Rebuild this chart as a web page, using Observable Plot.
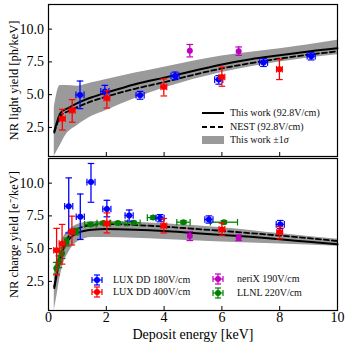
<!DOCTYPE html>
<html><head><meta charset="utf-8">
<script src="https://cdn.jsdelivr.net/npm/d3@7"></script>
<script src="https://cdn.jsdelivr.net/npm/@observablehq/plot@0.6"></script>
<style>
body{margin:0;background:#fff;}
#wrap{position:relative;width:349px;height:347px;font-family:"Liberation Serif",serif;}
#wrap svg{display:block;}
.leg{position:absolute;font-family:"Liberation Serif",serif;font-size:10px;color:#111;white-space:nowrap;line-height:10px;}
.leg svg{position:absolute;}
</style></head><body><div id="wrap"></div>
<script>
// ---------- data ----------
const xTicks = [0, 2, 4, 6, 8, 10];
const yTicks = [2.5, 5.0, 7.5, 10.0];
const colors = {lux180: "#0000ff", lux400: "#ff0000", nerix: "#c000c0", llnl: "#008000", band: "#9a9a9a"};

// Top panel: light yield
const lyModelE      = [0.2, 0.43, 0.7, 1, 1.5, 2, 3, 4, 5, 6, 7, 8, 9, 10];
const lyThisWork    = [2.2, 3.65, 4.0, 4.35, 4.8, 5.15, 5.8, 6.3, 6.8, 7.3, 7.7, 8.0, 8.3, 8.55];
const lyNEST        = [2.1, 3.4, 3.75, 4.05, 4.5, 4.85, 5.45, 5.95, 6.5, 7.0, 7.4, 7.75, 8.05, 8.3];
const lyBandE       = [0.2, 0.4, 0.6, 1, 1.5, 2, 3, 4, 6, 8, 10];
const lyBandLo      = [0.3, 1.1, 1.9, 2.65, 3.35, 3.8, 4.7, 5.5, 6.7, 7.5, 8.05];
const lyBandHi      = [4.0, 5.7, 5.7, 5.65, 5.9, 6.15, 6.65, 7.1, 7.95, 8.5, 9.15];

const lyLux180E  = [1.09, 1.95, 3.17, 4.38, 5.89, 7.44, 9.09];
const lyLux180   = [4.98, 5.25, 4.95, 6.43, 6.15, 7.45, 7.93];
const lyLux180Lo = [3.93, 4.75, 4.65, 6.15, 5.8, 7.15, 7.65];
const lyLux180Hi = [6.04, 5.71, 5.25, 6.72, 6.45, 7.75, 8.2];
const lyLux180Xe = [0.14, 0.14, 0.14, 0.14, 0.14, 0.14, 0.14];

const lyLux400E  = [0.48, 0.82, 2.02, 3.99, 6.0, 7.99];
const lyLux400   = [3.16, 3.8, 4.72, 5.58, 6.35, 6.94];
const lyLux400Lo = [2.3, 2.9, 3.98, 4.9, 5.64, 6.15];
const lyLux400Hi = [3.88, 4.62, 5.3, 6.2, 7.1, 7.68];
const lyLux400Xe = [0.1, 0.1, 0.1, 0.1, 0.1, 0.1];

const lyNerixE  = [4.89, 6.58];
const lyNerix   = [8.35, 8.32];
const lyNerixLo = [7.88, 8.0];
const lyNerixHi = [8.83, 8.64];

// Bottom panel: charge yield
const qyModelE      = [0.2, 0.3, 0.4, 0.5, 0.7, 1, 1.5, 2, 3, 4, 5, 6, 7, 8, 9, 10];
const qyThisWork    = [2.0, 3.2, 4.2, 4.9, 5.7, 6.2, 6.45, 6.5, 6.45, 6.35, 6.2, 6.05, 5.9, 5.72, 5.52, 5.33];
const qyNEST        = [2.1, 3.4, 4.4, 5.1, 5.95, 6.5, 6.8, 6.88, 6.8, 6.68, 6.52, 6.36, 6.18, 6.0, 5.8, 5.58];
const qyBandE       = [0.2, 0.3, 0.4, 0.5, 0.7, 1, 1.5, 2, 3, 4, 6, 8, 10];
const qyBandLo      = [0.3, 1.5, 2.8, 3.7, 4.7, 5.5, 5.85, 5.85, 5.8, 5.7, 5.5, 5.35, 5.18];
const qyBandHi      = [3.2, 4.3, 5.2, 5.8, 6.4, 6.85, 7.05, 7.1, 7.02, 6.9, 6.6, 6.15, 5.71];

const qyLux180E  = [0.70, 1.10, 1.47, 2.02, 2.79, 3.86, 5.55, 8.02];
const qyLux180   = [8.24, 7.43, 10.08, 8.03, 7.53, 7.33, 7.23, 6.85];
const qyLux180Lo = [6.2, 5.7, 8.54, 7.43, 7.1, 7.05, 6.95, 6.55];
const qyLux180Hi = [10.4, 9.17, 11.5, 8.69, 7.95, 7.6, 7.5, 7.15];
const qyLux180Xe = [0.14, 0.14, 0.14, 0.14, 0.14, 0.14, 0.14, 0.14];

const qyLux400E  = [0.28, 0.47, 0.81, 2.02, 3.99, 6.0, 8.0];
const qyLux400   = [4.88, 5.38, 6.29, 6.92, 6.75, 6.47, 6.27];
const qyLux400Lo = [3.0, 3.82, 5.28, 6.2, 6.2, 6.0, 5.75];
const qyLux400Hi = [6.55, 6.85, 7.48, 7.73, 7.3, 6.95, 6.7];
const qyLux400Xe = [0.1, 0.1, 0.1, 0.1, 0.1, 0.1, 0.1];

const qyNerixE  = [4.89, 6.58];
const qyNerix   = [5.96, 5.83];
const qyNerixLo = [5.62, 5.62];
const qyNerixHi = [6.3, 6.05];

const qyLlnlE  = [0.27, 0.36, 0.47, 0.62, 0.95, 1.45, 1.9, 2.4, 2.95, 3.62, 4.67, 6.07];
const qyLlnl   = [3.5, 4.0, 4.65, 5.5, 6.3, 6.85, 6.95, 6.95, 6.97, 7.37, 7.02, 7.02];
const qyLlnlYe = [0.45, 0.45, 0.4, 0.3, 0.25, 0.15, 0.12, 0.12, 0.12, 0.12, 0.12, 0.12];
const qyLlnlXe = [0.03, 0.04, 0.05, 0.07, 0.15, 0.2, 0.22, 0.25, 0.22, 0.2, 0.23, 0.47];

const yDomain = [0.28, 11.88];
const font = "Liberation Serif";

// ---------- helpers ----------
const hcap = {draw(ctx, size) { const r = Math.sqrt(size / Math.PI); ctx.moveTo(-r, 0); ctx.lineTo(r, 0); }};
const vcap = {draw(ctx, size) { const r = Math.sqrt(size / Math.PI); ctx.moveTo(0, -r); ctx.lineTo(0, r); }};

function errMarks(E, Y, lo, hi, xe, color) {
  const d = E.map((e, i) => ({E: e, Y: Y[i], lo: lo[i], hi: hi[i],
    xl: xe ? e - xe[i] : null, xh: xe ? e + xe[i] : null}));
  const m = [
    Plot.ruleX(d, {x: "E", y1: "lo", y2: "hi", stroke: color, strokeWidth: 1.3}),
    Plot.dot(d, {x: "E", y: "lo", symbol: hcap, r: 3.3, fill: "none", stroke: color, strokeWidth: 1.2}),
    Plot.dot(d, {x: "E", y: "hi", symbol: hcap, r: 3.3, fill: "none", stroke: color, strokeWidth: 1.2})
  ];
  if (xe) {
    m.push(Plot.ruleY(d, {y: "Y", x1: "xl", x2: "xh", stroke: color, strokeWidth: 1.3}));
    m.push(Plot.dot(d, {x: "xl", y: "Y", symbol: vcap, r: 3.3, fill: "none", stroke: color, strokeWidth: 1.2}));
    m.push(Plot.dot(d, {x: "xh", y: "Y", symbol: vcap, r: 3.3, fill: "none", stroke: color, strokeWidth: 1.2}));
  }
  m.push(Plot.dot(d, {x: "E", y: "Y", r: 3, fill: color, stroke: "none"}));
  return m;
}
function modelMarks(E, solid, dashed, bE, bLo, bHi) {
  const line = E.map((e, i) => ({E: e, s: solid[i], n: dashed[i]}));
  const band = bE.map((e, i) => ({E: e, lo: bLo[i], hi: bHi[i]}));
  return [
    Plot.areaY(band, {x: "E", y1: "lo", y2: "hi", fill: colors.band, curve: "monotone-x"}),
    Plot.line(line, {x: "E", y: "s", stroke: "black", strokeWidth: 2, curve: "monotone-x"}),
    Plot.line(line, {x: "E", y: "n", stroke: "black", strokeWidth: 1.8, strokeDasharray: "5,3", curve: "monotone-x"})
  ];
}
function axes(showX, ylabel) {
  return [
    Plot.axisX({ticks: showX ? xTicks : xTicks.slice(1, -1), tickSize: -4, tickPadding: 6,
      tickFormat: showX ? d3.format("d") : () => "", fontSize: 14, fontFamily: font}),
    Plot.axisY({ticks: yTicks, tickSize: -4, tickPadding: 8.5, tickFormat: d3.format(".1f"),
      fontSize: 14, fontFamily: font}),
    Plot.text([ylabel], {frameAnchor: "left", dx: -35, rotate: -90, textAnchor: "middle", lineAnchor: "middle",
      fontSize: 12.5, fontFamily: font, fill: "black"}),
    Plot.frame({stroke: "black", strokeWidth: 1.2})
  ];
}
const common = {width: 349, marginLeft: 48, marginRight: 12,
  x: {domain: [0, 10], label: null}, y: {domain: yDomain, label: null},
  style: {fontFamily: font, color: "black", background: "white", overflow: "visible"}};

const topPlot = Plot.plot({...common, height: 157, marginTop: 4, marginBottom: 1,
  marks: [
    ...modelMarks(lyModelE, lyThisWork, lyNEST, lyBandE, lyBandLo, lyBandHi),
    ...errMarks(lyLux180E, lyLux180, lyLux180Lo, lyLux180Hi, lyLux180Xe, colors.lux180),
    ...errMarks(lyLux400E, lyLux400, lyLux400Lo, lyLux400Hi, lyLux400Xe, colors.lux400),
    ...errMarks(lyNerixE, lyNerix, lyNerixLo, lyNerixHi, null, colors.nerix),
    ...axes(false, "NR light yield [ph/keV]")
  ]});
const llnlLo = qyLlnl.map((v, i) => v - qyLlnlYe[i]);
const llnlHi = qyLlnl.map((v, i) => v + qyLlnlYe[i]);
const bottomPlot = Plot.plot({...common, height: 190, marginTop: 1, marginBottom: 37,
  marks: [
    ...modelMarks(qyModelE, qyThisWork, qyNEST, qyBandE, qyBandLo, qyBandHi),
    ...errMarks(qyLlnlE, qyLlnl, llnlLo, llnlHi, qyLlnlXe, colors.llnl),
    ...errMarks(qyLux180E, qyLux180, qyLux180Lo, qyLux180Hi, qyLux180Xe, colors.lux180),
    ...errMarks(qyLux400E, qyLux400, qyLux400Lo, qyLux400Hi, qyLux400Xe, colors.lux400),
    ...errMarks(qyNerixE, qyNerix, qyNerixLo, qyNerixHi, null, colors.nerix),
    ...axes(true, "NR charge yield [e\u207B/keV]"),
    Plot.text(["Deposit energy [keV]"], {frameAnchor: "bottom", dy: 24, lineAnchor: "middle",
      fontSize: 14, fontFamily: font, fill: "black"})
  ]});

const wrap = document.getElementById("wrap");
wrap.appendChild(topPlot);
wrap.appendChild(bottomPlot);

// ---------- legends ----------
const lineSym = dash => `<svg width="22" height="10" style="left:0;top:0"><line x1="0" x2="22" y1="5" y2="5" stroke="black" stroke-width="${dash ? 1.8 : 2}" ${dash ? 'stroke-dasharray="5,3"' : ''}/></svg>`;
const bandSym = `<svg width="22" height="10" style="left:0;top:0"><rect x="0" y="1" width="22" height="8" fill="${colors.band}"/></svg>`;
const errSym = c => `<svg width="12" height="12" style="left:-6px;top:-1px"><g stroke="${c}" stroke-width="1.2" fill="none"><line x1="6" x2="6" y1="1" y2="11"/><line x1="1" x2="11" y1="6" y2="6"/><line x1="3" x2="9" y1="1" y2="1"/><line x1="3" x2="9" y1="11" y2="11"/><line x1="1" x2="1" y1="3" y2="9"/><line x1="11" x2="11" y1="3" y2="9"/></g><circle cx="6" cy="6" r="3" fill="${c}"/></svg>`;

function addLine(x, y, sym, text, off) {
  const div = document.createElement("div");
  div.className = "leg";
  div.style.left = x + "px"; div.style.top = (y - 5) + "px";
  div.innerHTML = sym + `<span style="position:absolute;left:${off}px;top:0px">${text}</span>`;
  wrap.appendChild(div);
}
addLine(202, 113, lineSym(false), "This work (92.8V/cm)", 28);
addLine(202, 127, lineSym(true), "NEST (92.8V/cm)", 28);
addLine(202, 140, bandSym, "This work &plusmn;1<i>&sigma;</i>", 28);
addLine(97, 280, errSym(colors.lux180), "LUX DD 180V/cm", 16);
addLine(97, 292, errSym(colors.lux400), "LUX DD 400V/cm", 16);
addLine(218, 279, errSym(colors.nerix), "neriX 190V/cm", 19);
addLine(218, 293, errSym(colors.llnl), "LLNL 220V/cm", 19);
</script></body></html>
